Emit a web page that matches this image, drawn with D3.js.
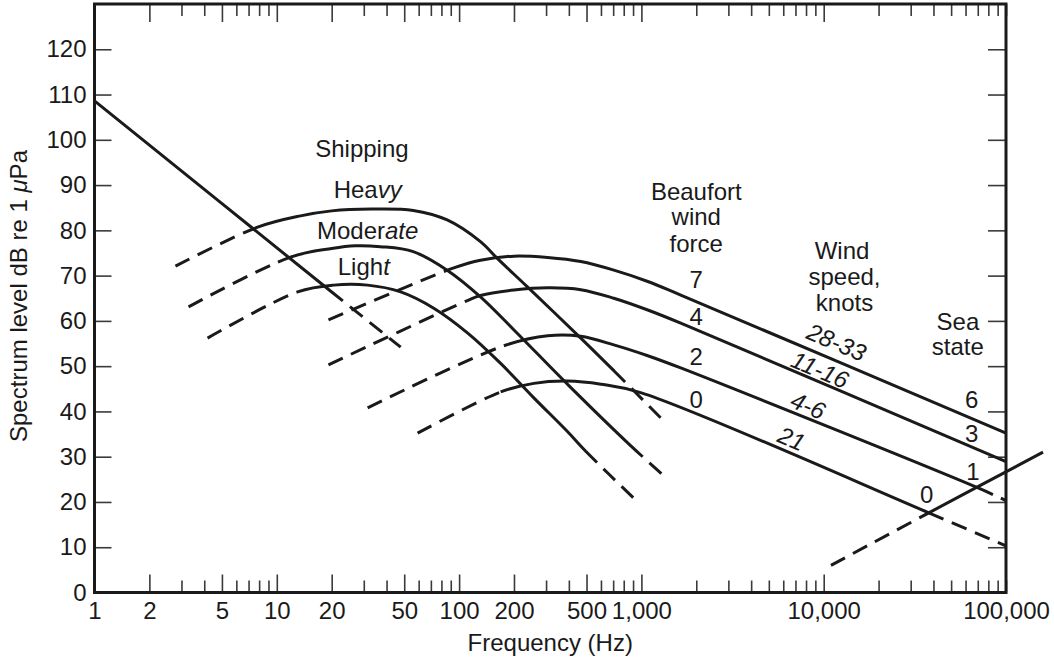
<!DOCTYPE html>
<html><head><meta charset="utf-8">
<script src="https://cdn.jsdelivr.net/npm/d3@7"></script>
<style>
body{margin:0;background:#fff;}
svg{display:block;font-family:"Liberation Sans",Arial,Helvetica,sans-serif;}
</style></head><body>
<svg id="c" width="1054" height="662"></svg>
<script>
// ---------------- data ----------------
const xLabelValues = [1,2,5,10,20,50,100,200,500,1000,10000,100000];
const xLabelTexts  = ["1","2","5","10","20","50","100","200","500","1,000","10,000","100,000"];
const xLongTicks   = [2,5,10,20,50,100,200,500,1000,10000];
const yLabelValues = [0,10,20,30,40,50,60,70,80,90,100,110,120];
const yTickValues  = [10,20,30,40,50,60,70,80,90,100,110,120];

// turbulence / traffic line
const trafficFreq  = [1, 19.7, 47.8];
const trafficLevel = [108.6, 66.6, 54.2];
const trafficDashed = [[19.7, 47.8]];

// shipping
const heavyFreq  = [2.78, 7.85, 13.5, 20, 33, 56, 86, 131, 162, 237, 465, 706, 1310];
const heavyLevel = [72.1, 80.7, 83.2, 84.3, 84.7, 84.4, 82.3, 77.5, 73.8, 67.5, 56.2, 49.0, 38.1];
const heavyDashed = [[2.78, 7.85], [706, 1310]];

const moderateFreq  = [3.28, 11.9, 20, 27, 37, 56, 86, 131, 200, 400, 875, 1310];
const moderateLevel = [63.1, 74.1, 76.0, 76.6, 76.4, 75.3, 71.2, 65.3, 58.0, 45.7, 32.4, 26.0];
const moderateDashed = [[3.28, 11.9], [875, 1310]];

const lightFreq  = [4.17, 13, 20.5, 31.5, 47.8, 72.6, 111.5, 169, 257, 394, 495, 931];
const lightLevel = [56.2, 66.4, 67.9, 67.9, 66.4, 62.8, 57.3, 50.6, 43.0, 35.5, 31.2, 20.4];
const lightDashed = [[4.17, 13], [495, 931]];

// Beaufort wind force curves
const wind7Freq  = [19.2, 93.5, 131, 200, 306, 465, 706, 1084, 1644, 100000];
const wind7Level = [60.2, 71.7, 73.4, 74.3, 74.0, 73.1, 71.2, 68.7, 65.7, 35.2];
const wind7Dashed = [[19.2, 93.5]];

const wind4Freq  = [19.2, 111, 131, 200, 306, 465, 706, 1084, 1644, 100000];
const wind4Level = [50.3, 64.5, 65.6, 66.8, 67.3, 66.9, 65.0, 62.4, 59.5, 28.9];
const wind4Dashed = [[19.2, 111]];

const wind2Freq  = [31.5, 176, 306, 465, 706, 1084, 1644, 70200, 100000];
const wind2Level = [40.8, 54.5, 56.7, 56.6, 54.7, 52.3, 49.6, 23.1, 20.3];
const wind2Dashed = [[31.5, 176], [70200, 100000]];

const wind0Freq  = [59.2, 169, 257, 394, 600, 1000, 37700, 100000];
const wind0Level = [35.2, 44.3, 46.2, 46.7, 46.0, 44.1, 17.6, 10.3];
const wind0Dashed = [[59.2, 169], [37700, 100000]];

// thermal noise line
const thermalFreq  = [10960, 37700, 159600];
const thermalLevel = [6.0, 17.6, 31.0];
const thermalDashed = [[10960, 37700]];

// ---------------- layout ----------------
const svg = d3.select("#c");
const x = d3.scaleLog().domain([1, 100000]).range([94.5, 1006]);
const y = d3.scaleLinear().domain([0, 130]).range([592.5, 4]);
const FS = 24;
const ink = "#1a1a1a";

// ticks
const allTicks = x.ticks();
const isLong = d => xLongTicks.some(v => Math.abs(v - d) / v < 1e-6);
const fmtX = d => { const i = xLabelValues.findIndex(v => Math.abs(v - d) / v < 1e-6); return i >= 0 ? xLabelTexts[i] : ""; };

const gb = svg.append("g").attr("transform", `translate(0,${y(0)})`)
  .call(d3.axisBottom(x).tickValues(allTicks).tickSize(-12).tickPadding(9).tickFormat(fmtX));
gb.selectAll(".tick line").attr("y2", d => isLong(d) ? -18 : -12);

const gt = svg.append("g").attr("transform", `translate(0,${y(130)})`)
  .call(d3.axisTop(x).tickValues(allTicks).tickSize(-12).tickFormat(""));
gt.selectAll(".tick line").attr("y2", d => isLong(d) ? 18 : 12);

const gl = svg.append("g").attr("transform", `translate(${x(1)},0)`)
  .call(d3.axisLeft(y).tickValues(yLabelValues).tickSize(-17).tickPadding(8));
gl.selectAll(".tick line").filter(d => d === 0).remove();

const gr = svg.append("g").attr("transform", `translate(${x(100000)},0)`)
  .call(d3.axisRight(y).tickValues(yTickValues).tickSize(-18).tickFormat(""));

svg.selectAll(".domain").remove();
svg.selectAll(".tick line").attr("stroke", "#3a3a3a").attr("stroke-width", 1.6);
svg.selectAll(".tick text").attr("font-size", FS).attr("fill", ink)
  .attr("font-family", '"Liberation Sans",Arial,sans-serif');

// frame
svg.append("rect").attr("x", x(1)).attr("y", y(130))
  .attr("width", x(100000) - x(1)).attr("height", y(0) - y(130))
  .attr("fill", "none").attr("stroke", ink).attr("stroke-width", 3);

// ---------------- curves ----------------
const line = d3.line().x(d => x(d.f)).y(d => y(d.v)).curve(d3.curveCatmullRom.alpha(0.5));
const DASH = 16, GAP = 9;

function drawCurve(freq, level, dashed) {
  const pts = freq.map((f, i) => ({f: f, v: level[i]}));
  const p = svg.append("path").attr("d", line(pts))
    .attr("fill", "none").attr("stroke", ink).attr("stroke-width", 3)
    .attr("stroke-linecap", "butt").attr("stroke-linejoin", "round");
  const node = p.node();
  const total = node.getTotalLength();
  function lenAtX(px) {
    let lo = 0, hi = total;
    for (let k = 0; k < 40; k++) {
      const mid = (lo + hi) / 2;
      if (node.getPointAtLength(mid).x < px) lo = mid; else hi = mid;
    }
    return (lo + hi) / 2;
  }
  const ranges = dashed.map(r => [lenAtX(x(r[0])), lenAtX(x(r[1]))]).sort((a, b) => a[0] - b[0]);
  const arr = [];
  let pos = 0;
  ranges.forEach(r => {
    const s = Math.max(r[0], pos), e = Math.min(r[1], total);
    if (s > pos) { arr.push(s - pos, 0); }
    let q = s;
    while (q < e - 0.01) {
      const d = Math.min(DASH, e - q); arr.push(d); q += d;
      const g = Math.min(GAP, e - q); arr.push(g); q += g;
    }
    pos = Math.max(pos, e);
  });
  if (pos < total) arr.push(total - pos + 1, 0);
  p.attr("stroke-dasharray", arr.map(v => v.toFixed(2)).join(" "));
}

drawCurve(trafficFreq, trafficLevel, trafficDashed);
drawCurve(heavyFreq, heavyLevel, heavyDashed);
drawCurve(moderateFreq, moderateLevel, moderateDashed);
drawCurve(lightFreq, lightLevel, lightDashed);
drawCurve(wind7Freq, wind7Level, wind7Dashed);
drawCurve(wind4Freq, wind4Level, wind4Dashed);
drawCurve(wind2Freq, wind2Level, wind2Dashed);
drawCurve(wind0Freq, wind0Level, wind0Dashed);
drawCurve(thermalFreq, thermalLevel, thermalDashed);

// ---------------- annotations ----------------
function label(f, v, parts, opts) {
  opts = opts || {};
  const t = svg.append("text").attr("text-anchor", "middle")
    .attr("font-size", FS).attr("fill", ink);
  if (opts.rotate !== undefined) {
    t.attr("transform", `translate(${x(f)},${y(v)}) rotate(${opts.rotate})`)
     .attr("dominant-baseline", "central");
  } else {
    t.attr("x", x(f)).attr("y", y(v));
  }
  (Array.isArray(parts) ? parts : [[parts, false]]).forEach(pp => {
    t.append("tspan").text(pp[0]).attr("font-style", pp[1] ? "italic" : "normal");
  });
  return t;
}

label(29.3, 96.2, "Shipping");
label(31.5, 87.1, [["Hea", false], ["vy", true]]);
label(31.5, 78.1, [["Moder", false], ["ate", true]]);
label(30.0, 70.1, [["Ligh", false], ["t", true]]);

label(2000, 86.7, "Beaufort");
label(2000, 81.1, "wind");
label(2000, 75.3, "force");
label(2000, 67.2, "7");
label(2000, 59.1, "4");
label(2000, 50.3, "2");
label(2000, 40.7, "0");

label(12600, 73.7, "Wind");
label(13000, 68.0, "speed,");
label(13000, 62.1, "knots");

label(54500, 58.0, "Sea");
label(54400, 52.4, "state");

label(11790, 55.4, [["28-33", true]], {rotate: 23});
label(9570, 49.3, [["11-16", true]], {rotate: 23});
label(8233, 41.4, [["4-6", true]], {rotate: 23});
label(6674, 34.1, [["21", true]], {rotate: 23});

label(64830, 40.7, "6");
label(64830, 33.3, "3");
label(65900, 24.9, "1");
label(36730, 19.7, "0");

// axis titles
svg.append("text").attr("x", (x(1) + x(100000)) / 2).attr("y", 651)
  .attr("text-anchor", "middle").attr("font-size", FS).attr("fill", ink)
  .text("Frequency (Hz)");

const yt = svg.append("text").attr("transform", "translate(27,296) rotate(-90)")
  .attr("text-anchor", "middle").attr("font-size", FS).attr("fill", ink);
yt.append("tspan").text("Spectrum level dB re 1 ");
yt.append("tspan").attr("font-style", "italic").text("\u03bc");
yt.append("tspan").text("Pa");
</script>
</body></html>
